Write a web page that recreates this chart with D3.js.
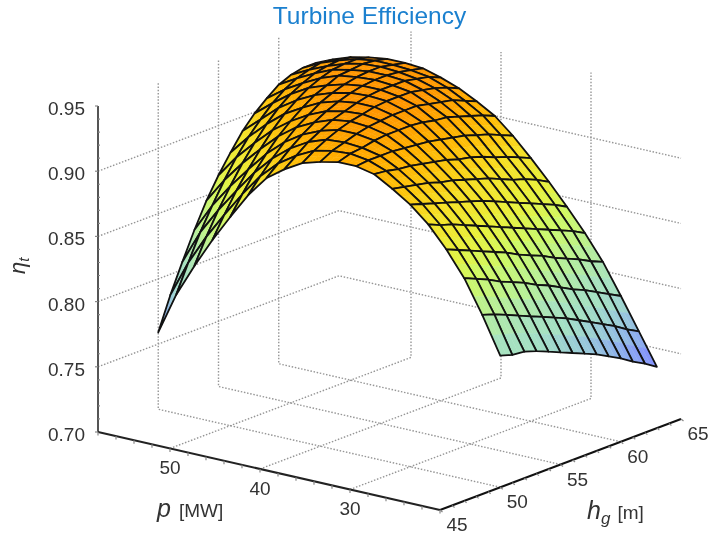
<!DOCTYPE html>
<html>
<head>
<meta charset="utf-8">
<script src="https://cdn.jsdelivr.net/npm/d3@7"></script>
<style>
  html, body { margin: 0; background: #fff; }
  svg { display: block; font-family: "Liberation Sans", sans-serif; filter: blur(0.55px); }
</style>
</head>
<body>
<div id="chart"></div>
<script>
// grid of the surface
var pGrid = [58,56,54,52,50,48,46,44,42,40,38,36,34,32,30,28,26,24,22,20];
var hgGrid = [50,51,52,53,54,55,56,57,58,59,60,61,62,63];

// efficiency, one row per pGrid value, one column per hgGrid value
var etaGrid = [
  [.759,.784,.806,.827,.846,.862,.876,.889,.899,.907,.914,.918,.920,.920],
  [.791,.812,.832,.849,.865,.879,.891,.901,.910,.917,.922,.925,.927,.926],
  [.816,.835,.852,.867,.881,.893,.904,.913,.920,.925,.929,.931,.932,.931],
  [.839,.855,.870,.883,.895,.906,.915,.922,.928,.932,.935,.936,.936,.934],
  [.860,.874,.887,.898,.908,.916,.923,.929,.933,.937,.938,.939,.938,.936],
  [.880,.891,.901,.910,.918,.924,.930,.934,.937,.939,.940,.940,.938,.936],
  [.896,.904,.912,.919,.925,.930,.934,.937,.939,.940,.940,.939,.937,.935],
  [.906,.913,.920,.925,.930,.933,.936,.938,.939,.939,.939,.937,.935,.931],
  [.914,.920,.925,.929,.932,.934,.936,.937,.937,.937,.935,.933,.930,.926],
  [.918,.923,.926,.929,.931,.932,.933,.933,.933,.931,.929,.927,.923,.919],
  [.921,.924,.925,.927,.928,.928,.928,.927,.925,.924,.921,.918,.915,.911],
  [.921,.922,.922,.922,.921,.920,.919,.917,.915,.913,.910,.907,.903,.899],
  [.918,.917,.915,.914,.912,.910,.908,.905,.903,.900,.896,.893,.889,.885],
  [.910,.908,.906,.904,.901,.899,.896,.893,.890,.886,.882,.879,.875,.870],
  [.901,.898,.895,.892,.889,.886,.883,.879,.875,.871,.867,.863,.859,.854],
  [.889,.885,.882,.878,.874,.870,.866,.862,.858,.854,.850,.846,.842,.837],
  [.873,.869,.865,.861,.857,.853,.848,.844,.840,.835,.831,.827,.822,.818],
  [.854,.850,.846,.841,.837,.833,.828,.824,.819,.814,.810,.805,.800,.795],
  [.829,.826,.822,.818,.814,.810,.806,.802,.797,.792,.787,.782,.776,.771],
  [.801,.798,.797,.794,.790,.786,.782,.778,.774,.769,.764,.758,.753,.747]
];

// axis ranges and ticks
var pRange = [58, 20], hgRange = [45, 65], etaRange = [.70, .95];
var pTicks = [50, 40, 30];
var hgTicks = [45, 50, 55, 60, 65];
var hgGridTicks = [50, 55, 60];
var etaTicks = [.70, .75, .80, .85, .90, .95];
var etaGridTicks = [.75, .80, .85, .90];

var width = 709, height = 535;
var origin = {x: 98, y: 432};

// the box is drawn with a parallel projection, so each axis just adds a screen offset
var pX = d3.scaleLinear().domain(pRange).range([0, 342]),
    pY = d3.scaleLinear().domain(pRange).range([0, 78]),
    hgX = d3.scaleLinear().domain(hgRange).range([0, 241]),
    hgY = d3.scaleLinear().domain(hgRange).range([0, -91]),
    etaY = d3.scaleLinear().domain(etaRange).range([0, -326]);

function project(p, hg, eta) {
  return [origin.x + pX(p) + hgX(hg), origin.y + pY(p) + hgY(hg) + etaY(eta)];
}

var color = d3.scaleLinear()
    .domain([.75, .765, .785, .80, .81, .83, .85, .87, .89, .905, .92, .935])
    .range(["#828cff", "#8caaf0", "#9bcdd7", "#a5e1c3", "#a8e2be", "#b9f096", "#cdf869",
            "#e8f03c", "#f5e128", "#fcc80f", "#ffaf00", "#ff9600"])
    .clamp(true);

var svg = d3.select("#chart").append("svg")
    .attr("width", width)
    .attr("height", height);

var line = d3.line();

// dotted face grids
var gridLines = [];
pTicks.forEach(function(p) {
  gridLines.push([project(p, hgRange[0], etaRange[0]), project(p, hgRange[1], etaRange[0]), project(p, hgRange[1], etaRange[1])]);
});
hgGridTicks.forEach(function(hg) {
  gridLines.push([project(pRange[1], hg, etaRange[0]), project(pRange[0], hg, etaRange[0]), project(pRange[0], hg, etaRange[1])]);
});
etaGridTicks.forEach(function(eta) {
  gridLines.push([project(pRange[0], hgRange[0], eta), project(pRange[0], hgRange[1], eta), project(pRange[1], hgRange[1], eta)]);
});

svg.append("g").selectAll("path")
    .data(gridLines)
  .enter().append("path")
    .attr("d", line)
    .attr("fill", "none")
    .attr("stroke", "#969696")
    .attr("stroke-width", 1.4)
    .attr("stroke-dasharray", "1.5 1.7");

// surface, painted from the back corner to the front corner
var surface = svg.append("g");

// one quarter of a cell, coloured by its own mean so the shading runs smoothly across the cell
function quarter(i, j, s, t) {
  var corners = [[s, t], [s, t + .5], [s + .5, t + .5], [s + .5, t]].map(function(c) {
    var e = d3.interpolate(
      d3.interpolate(etaGrid[i][j], etaGrid[i][j + 1])(c[1]),
      d3.interpolate(etaGrid[i + 1][j], etaGrid[i + 1][j + 1])(c[1])
    )(c[0]);
    return {
      pt: project(d3.interpolate(pGrid[i], pGrid[i + 1])(c[0]), d3.interpolate(hgGrid[j], hgGrid[j + 1])(c[1]), e),
      eta: e
    };
  });
  var fill = color(d3.mean(corners, function(d) { return d.eta; }));
  surface.append("path")
      .attr("d", line(corners.map(function(d) { return d.pt; })) + "Z")
      .attr("fill", fill)
      .attr("stroke", fill)
      .attr("stroke-width", .5);
}

for (var i = 0; i < pGrid.length - 1; i++) {
  for (var j = hgGrid.length - 2; j >= 0; j--) {
    quarter(i, j, 0, .5);
    quarter(i, j, 0, 0);
    quarter(i, j, .5, .5);
    quarter(i, j, .5, 0);
    surface.append("path")
        .attr("d", line([
          project(pGrid[i], hgGrid[j], etaGrid[i][j]),
          project(pGrid[i], hgGrid[j + 1], etaGrid[i][j + 1]),
          project(pGrid[i + 1], hgGrid[j + 1], etaGrid[i + 1][j + 1]),
          project(pGrid[i + 1], hgGrid[j], etaGrid[i + 1][j])
        ]) + "Z")
        .attr("fill", "none")
        .attr("stroke", "#111")
        .attr("stroke-width", 1.8)
        .attr("stroke-linejoin", "round");
  }
}

// axes
var axes = svg.append("g").attr("fill", "none");
axes.append("path")
    .attr("d", line([project(pRange[0], hgRange[0], etaRange[0]), project(pRange[0], hgRange[0], etaRange[1])]))
    .attr("stroke", "#555").attr("stroke-width", 2);
axes.append("path")
    .attr("d", line([project(pRange[0], hgRange[0], etaRange[0]), project(pRange[1], hgRange[0], etaRange[0])]))
    .attr("stroke", "#222").attr("stroke-width", 2);
axes.append("path")
    .attr("d", line([project(pRange[1], hgRange[0], etaRange[0]), project(pRange[1], hgRange[1], etaRange[0])]))
    .attr("stroke", "#111").attr("stroke-width", 2);

// minor ticks
function tick(pt, dx, dy) {
  axes.append("path")
      .attr("d", line([pt, [pt[0] + dx, pt[1] + dy]]))
      .attr("stroke", "#888").attr("stroke-width", 1.2);
}
d3.range(20, 59, 2).forEach(function(p) {
  tick(project(p, hgRange[0], etaRange[0]), 0, 3.5);
});
d3.range(45, 65.1, 1).forEach(function(hg) {
  tick(project(pRange[1], hg, etaRange[0]), 2.5, 2);
});
d3.range(70, 95.1, 1).forEach(function(v) {
  tick(project(pRange[0], hgRange[0], v / 100), v % 5 === 0 ? -3 : 2, 0);
});

// tick labels
var labelColor = "#333";
var labels = svg.append("g")
    .attr("fill", labelColor)
    .attr("font-size", 19);

labels.selectAll(".etaLabel")
    .data(etaTicks)
  .enter().append("text")
    .attr("class", "etaLabel")
    .attr("x", function(d) { return project(pRange[0], hgRange[0], d)[0] - 13; })
    .attr("y", function(d) { return project(pRange[0], hgRange[0], d)[1] + 9; })
    .attr("text-anchor", "end")
    .text(d3.format(".2f"));

labels.selectAll(".pLabel")
    .data(pTicks)
  .enter().append("text")
    .attr("class", "pLabel")
    .attr("x", function(d) { return project(d, hgRange[0], etaRange[0])[0]; })
    .attr("y", function(d) { return project(d, hgRange[0], etaRange[0])[1] + 26; })
    .attr("text-anchor", "middle")
    .text(function(d) { return d; });

labels.selectAll(".hgLabel")
    .data(hgTicks)
  .enter().append("text")
    .attr("class", "hgLabel")
    .attr("x", function(d) { return project(pRange[1], d, etaRange[0])[0] + 17; })
    .attr("y", function(d) { return project(pRange[1], d, etaRange[0])[1] + 21; })
    .attr("text-anchor", "middle")
    .text(function(d) { return d; });

// title and axis names
svg.append("text")
    .attr("x", 369.5)
    .attr("y", 24)
    .attr("text-anchor", "middle")
    .attr("font-size", 24.5)
    .attr("fill", "#1b80cf")
    .text("Turbine Efficiency");

var pTitle = svg.append("text").attr("x", 157).attr("y", 517).attr("fill", labelColor);
pTitle.append("tspan").attr("font-style", "italic").attr("font-size", 25).text("p");
pTitle.append("tspan").attr("font-size", 19).attr("dx", 8).text("[MW]");

var hgTitle = svg.append("text").attr("x", 587).attr("y", 519).attr("fill", labelColor);
hgTitle.append("tspan").attr("font-style", "italic").attr("font-size", 25).text("h");
hgTitle.append("tspan").attr("font-style", "italic").attr("font-size", 17).attr("dy", 5).text("g");
hgTitle.append("tspan").attr("font-size", 19).attr("dx", 7).attr("dy", -5).text("[m]");

var etaTitle = svg.append("text")
    .attr("transform", "translate(25,274) rotate(-90)")
    .attr("fill", labelColor);
etaTitle.append("tspan").attr("font-style", "italic").attr("font-size", 22).text("η");
etaTitle.append("tspan").attr("font-style", "italic").attr("font-size", 15).attr("dy", 4).text("t");
</script>
</body>
</html>
